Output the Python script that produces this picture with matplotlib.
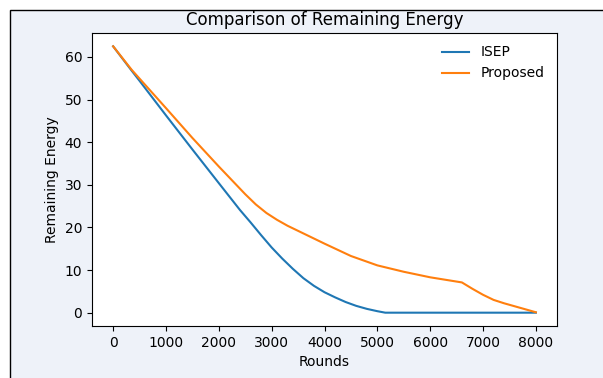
import matplotlib
matplotlib.use("Agg")
import matplotlib.pyplot as plt
from matplotlib.patches import Rectangle

# rounds and remaining energy
isep_rounds = [0, 350, 500, 1000, 1500, 2000, 2400, 2600, 2800, 3000, 3200, 3400,
               3600, 3800, 4000, 4200, 4400, 4600, 4800, 5000, 5150, 6000, 7000, 8000]
isep_energy = [62.5, 56.8, 54.4, 46.3, 38.3, 30.4, 24.1, 21.2, 18.2, 15.3, 12.7, 10.3,
               8.1, 6.3, 4.8, 3.6, 2.5, 1.6, 0.9, 0.35, 0.0, 0.0, 0.0, 0.0]

prop_rounds = [0, 350, 1000, 1500, 2000, 2500, 2700, 2900, 3100, 3300, 3600, 4000,
               4500, 5000, 5500, 6000, 6600, 6800, 7000, 7200, 7400, 7600, 7800, 8000]
prop_energy = [62.5, 57.0, 48.0, 41.0, 34.3, 27.8, 25.4, 23.4, 21.8, 20.4, 18.6, 16.2,
               13.3, 11.1, 9.6, 8.3, 7.1, 5.6, 4.2, 3.0, 2.2, 1.5, 0.8, 0.1]

title = "Comparison of Remaining Energy"
xlabel = "Rounds"
ylabel = "Remaining Energy"

fig = plt.figure(figsize=(6.03, 3.78), dpi=100)
fig.patch.set_facecolor("white")

# notebook-style output frame behind the chart
frame = Rectangle((10 / 603, -0.2), 1.2, 1.2 - 10 / 378,
                  transform=fig.transFigure, facecolor="#eef2f9",
                  edgecolor="black", linewidth=1.0, zorder=-10)
fig.patches.append(frame)

ax = fig.add_axes([92 / 603, 52 / 378, 465 / 603, 293 / 378])
ax.plot(isep_rounds, isep_energy, label="ISEP")
ax.plot(prop_rounds, prop_energy, label="Proposed")

ax.set_title(title)
ax.set_xlabel(xlabel)
ax.set_ylabel(ylabel)
ax.legend(frameon=False)

fig.savefig("out.png", dpi=100, facecolor=fig.get_facecolor())
